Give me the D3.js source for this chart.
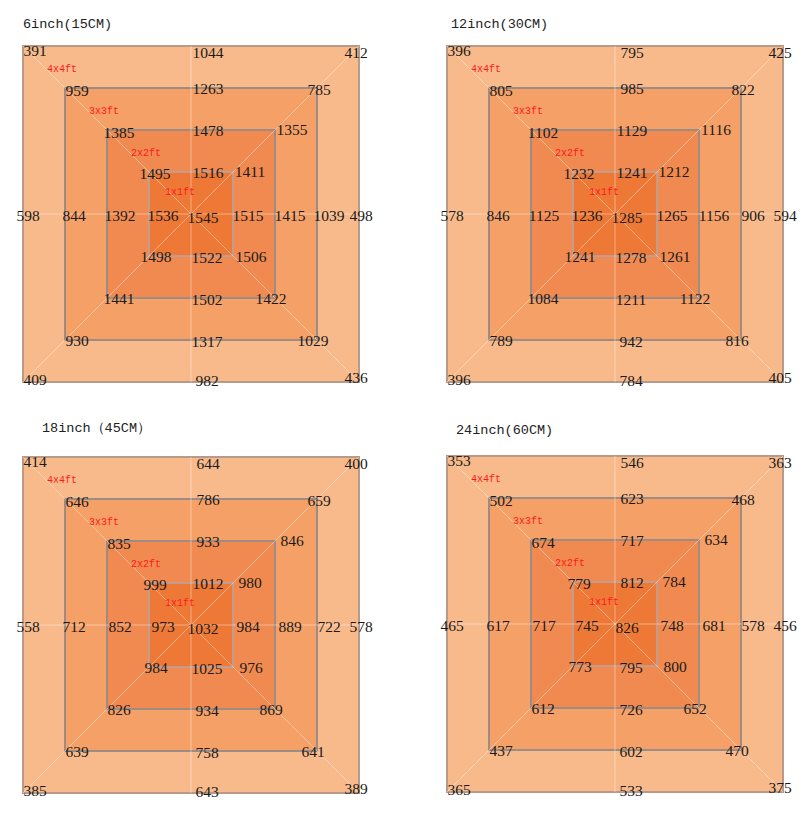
<!DOCTYPE html>
<html>
<head>
<meta charset="utf-8">
<script src="https://cdn.jsdelivr.net/npm/d3@7"></script>
<style>
  html, body { margin: 0; padding: 0; background: #fff; }
  svg { display: block; }
</style>
</head>
<body>
<svg id="chart" width="812" height="821"></svg>
<script>
// ---------------- DATA ----------------
const panelTitles = ["6inch(15CM)", "12inch(30CM)", "18inch（45CM）", "24inch(60CM)"];
const ringLabels = ["4x4ft", "3x3ft", "2x2ft", "1x1ft"];
const ringSizesFt = [4, 3, 2, 1];
// order of values on each square: top-left, top, top-right, right, bottom-right, bottom, bottom-left, left
const positionNames = ["TL", "T", "TR", "R", "BR", "B", "BL", "L"];

const values6in = [
  [391, 1044, 412, 498, 436, 982, 409, 598],
  [959, 1263, 785, 1039, 1029, 1317, 930, 844],
  [1385, 1478, 1355, 1415, 1422, 1502, 1441, 1392],
  [1495, 1516, 1411, 1515, 1506, 1522, 1498, 1536]
];
const center6in = 1545;

const values12in = [
  [396, 795, 425, 594, 405, 784, 396, 578],
  [805, 985, 822, 906, 816, 942, 789, 846],
  [1102, 1129, 1116, 1156, 1122, 1211, 1084, 1125],
  [1232, 1241, 1212, 1265, 1261, 1278, 1241, 1236]
];
const center12in = 1285;

const values18in = [
  [414, 644, 400, 578, 389, 643, 385, 558],
  [646, 786, 659, 722, 641, 758, 639, 712],
  [835, 933, 846, 889, 869, 934, 826, 852],
  [999, 1012, 980, 984, 976, 1025, 984, 973]
];
const center18in = 1032;

const values24in = [
  [353, 546, 363, 456, 375, 533, 365, 465],
  [502, 623, 468, 578, 470, 602, 437, 617],
  [674, 717, 634, 681, 652, 726, 612, 717],
  [779, 812, 784, 748, 800, 795, 773, 745]
];
const center24in = 826;

// ---------------- LAYOUT ----------------
const panels = [
  { title: panelTitles[0], rings: values6in,  center: center6in,  cx: 191, cy: 214, tdx: 0,  ty: 24 },
  { title: panelTitles[1], rings: values12in, center: center12in, cx: 615, cy: 214, tdx: 4,  ty: 24 },
  { title: panelTitles[2], rings: values18in, center: center18in, cx: 191, cy: 625, tdx: 19, ty: 428 },
  { title: panelTitles[3], rings: values24in, center: center24in, cx: 615, cy: 624, tdx: 9,  ty: 430 }
];
const half = 168;
const ringFills = ["#f8ba8a", "#f5a067", "#f08a50", "#ee7936"];
const ringStrokes = ["#b89a88", "#9c8c84", "#9c8c84", "#b4a6a8"];

const dirs = {
  TL: [-1, 1], T: [0, 1], TR: [1, 1], R: [1, 0],
  BR: [1, -1], B: [0, -1], BL: [-1, -1], L: [-1, 0]
};
// label nudges (px) by position and ring index
function nudge(pos, ring) {
  switch (pos) {
    case "TL": return ring === 3 ? [6, 1] : [12, ring === 0 ? 4 : 2];
    case "T":  return [17, ring === 0 ? 6 : 0];
    case "TR": return ring === 0 ? [-3, 6] : ring === 1 ? [2, 1] : [17, -1];
    case "R":  return ring === 0 ? [2, 1] : ring === 1 ? [12, 1] : [15, 1];
    case "BR": return ring === 0 ? [-3, -5] : ring === 3 ? [18, 0] : [-4, 0];
    case "B":  return [16, ring === 0 ? -2 : 1];
    case "BL": return ring === 3 ? [7, 0] : [12, ring === 0 ? -3 : 0];
    case "L":  return [[5, 9, 13, 14][ring], 1];
  }
}

const svg = d3.select("#chart");

panels.forEach(p => {
  const x = d3.scaleLinear().domain([-2, 2]).range([p.cx - half, p.cx + half]);
  const y = d3.scaleLinear().domain([-2, 2]).range([p.cy + half, p.cy - half]);
  const g = svg.append("g");

  g.append("text")
    .attr("x", x(-2) + p.tdx)
    .attr("y", p.ty)
    .attr("dominant-baseline", "central")
    .attr("font-family", "'Liberation Mono', 'DejaVu Sans Mono', monospace")
    .attr("font-size", 13.5)
    .attr("fill", "#222")
    .text(p.title);

  ringSizesFt.forEach((s, i) => {
    const h = s / 2;
    g.append("rect")
      .attr("x", x(-h)).attr("y", y(h))
      .attr("width", x(h) - x(-h)).attr("height", y(-h) - y(h))
      .attr("fill", ringFills[i]);
  });
  ringSizesFt.forEach((s, i) => {
    const h = s / 2;
    g.append("rect")
      .attr("x", x(-h)).attr("y", y(h))
      .attr("width", x(h) - x(-h)).attr("height", y(-h) - y(h))
      .attr("fill", "none")
      .attr("stroke", ringStrokes[i])
      .attr("stroke-width", i === 3 ? 1.5 : 2);
  });

  const lines = [
    [[-2, 0], [2, 0]], [[0, -2], [0, 2]],
    [[-2, 2], [2, -2]], [[-2, -2], [2, 2]]
  ];
  g.selectAll("line.guide").data(lines).enter().append("line")
    .attr("x1", d => x(d[0][0])).attr("y1", d => y(d[0][1]))
    .attr("x2", d => x(d[1][0])).attr("y2", d => y(d[1][1]))
    .attr("stroke", "#ffffff").attr("stroke-opacity", 0.4).attr("stroke-width", 1);

  ringSizesFt.forEach((s, i) => {
    const h = s / 2;
    g.append("text")
      .attr("x", x(-h) + (i === 3 ? 16 : 24))
      .attr("y", y(h) + (i === 3 ? 20 : 23))
      .attr("dominant-baseline", "central")
      .attr("font-family", "'Liberation Mono', 'DejaVu Sans Mono', monospace")
      .attr("font-size", 10)
      .attr("fill", "#ff1a1a")
      .text(ringLabels[i]);
  });

  const labels = [];
  p.rings.forEach((vals, ri) => {
    const h = ringSizesFt[ri] / 2;
    vals.forEach((v, k) => {
      const pos = positionNames[k];
      const d = dirs[pos];
      const n = nudge(pos, ri);
      labels.push({ v, px: x(d[0] * h) + n[0], py: y(d[1] * h) + n[1] });
    });
  });
  labels.push({ v: p.center, px: x(0) + 12, py: y(0) + 3 });

  g.selectAll("text.val").data(labels).enter().append("text")
    .attr("class", "val")
    .attr("x", d => d.px).attr("y", d => d.py)
    .attr("text-anchor", "middle")
    .attr("dominant-baseline", "central")
    .attr("font-family", "'Liberation Serif', 'DejaVu Serif', serif")
    .attr("font-size", 15.5)
    .attr("fill", "#1a1a1a")
    .text(d => d.v);
});
</script>
</body>
</html>
